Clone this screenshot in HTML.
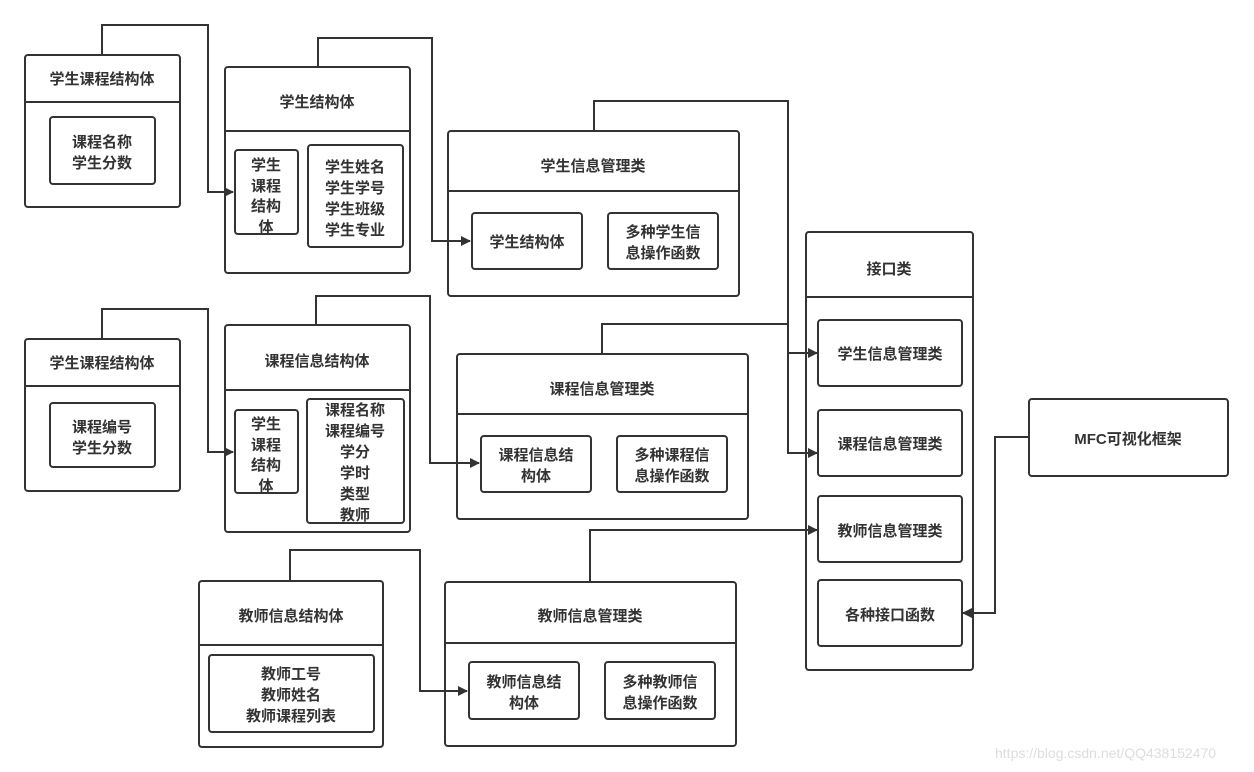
<!DOCTYPE html>
<html><head><meta charset="utf-8"><style>
html,body{margin:0;padding:0;background:#fff;}
svg{display:block;}
text{font-family:"Liberation Sans","Noto Sans CJK SC",sans-serif;font-weight:bold;font-size:15px;fill:#333;text-anchor:middle;}
.b{fill:none;stroke:#333;stroke-width:2;}
.l{fill:none;stroke:#333;stroke-width:2;}
.w{font-family:"Liberation Sans",sans-serif;font-weight:normal;font-size:14px;fill:#ddd;text-anchor:start;}
</style></head><body>
<svg width="1254" height="772" viewBox="0 0 1254 772" xmlns="http://www.w3.org/2000/svg">
<defs><marker id="a" markerWidth="10" markerHeight="10" refX="9" refY="5" orient="auto" markerUnits="userSpaceOnUse"><path d="M0,0 L10,5 L0,10 Z" fill="#333"/></marker></defs>
<!-- connectors -->
<path class="l" d="M102,55 V25 H208 V192 H233" marker-end="url(#a)"/>
<path class="l" d="M318,67 V38 H432 V241 H470" marker-end="url(#a)"/>
<path class="l" d="M594,131 V101 H788 V353 H817" marker-end="url(#a)"/>
<path class="l" d="M602,354 V324 H788"/>
<path class="l" d="M788,353 V453 H817" marker-end="url(#a)"/>
<path class="l" d="M102,339 V309 H208 V452 H233" marker-end="url(#a)"/>
<path class="l" d="M316,325 V296 H430 V463 H479" marker-end="url(#a)"/>
<path class="l" d="M290,581 V550 H420 V691 H467" marker-end="url(#a)"/>
<path class="l" d="M590,583 V530 H817" marker-end="url(#a)"/>
<path class="l" d="M1029,437 H995 V613 H963" marker-end="url(#a)"/>
<!-- A1 -->
<rect class="b" x="25" y="55" width="155" height="152" rx="3"/><line class="b" x1="25" y1="102" x2="180" y2="102"/>
<text x="102" y="84">学生课程结构体</text>
<rect class="b" x="50" y="117" width="105" height="67" rx="3"/>
<text x="102" y="147">课程名称</text><text x="102" y="168">学生分数</text>
<!-- A2 -->
<rect class="b" x="225" y="67" width="185" height="206" rx="3"/><line class="b" x1="225" y1="131" x2="410" y2="131"/>
<text x="317" y="107">学生结构体</text>
<rect class="b" x="235" y="150" width="63" height="84" rx="3"/>
<text x="266" y="170">学生</text><text x="266" y="191">课程</text><text x="266" y="211">结构</text><text x="266" y="232">体</text>
<rect class="b" x="308" y="145" width="95" height="102" rx="3"/>
<text x="355" y="172">学生姓名</text><text x="355" y="193">学生学号</text><text x="355" y="214">学生班级</text><text x="355" y="235">学生专业</text>
<!-- B -->
<rect class="b" x="448" y="131" width="291" height="165" rx="3"/><line class="b" x1="448" y1="191" x2="739" y2="191"/>
<text x="593" y="171">学生信息管理类</text>
<rect class="b" x="472" y="213" width="110" height="56" rx="3"/><text x="527" y="247">学生结构体</text>
<rect class="b" x="608" y="213" width="110" height="56" rx="3"/><text x="663" y="237">多种学生信</text><text x="663" y="258">息操作函数</text>
<!-- C1 -->
<rect class="b" x="25" y="339" width="155" height="152" rx="3"/><line class="b" x1="25" y1="386" x2="180" y2="386"/>
<text x="102" y="368">学生课程结构体</text>
<rect class="b" x="50" y="403" width="105" height="64" rx="3"/>
<text x="102" y="432">课程编号</text><text x="102" y="453">学生分数</text>
<!-- C2 -->
<rect class="b" x="225" y="325" width="185" height="207" rx="3"/><line class="b" x1="225" y1="390" x2="410" y2="390"/>
<text x="317" y="366">课程信息结构体</text>
<rect class="b" x="235" y="410" width="63" height="83" rx="3"/>
<text x="266" y="429">学生</text><text x="266" y="450">课程</text><text x="266" y="470">结构</text><text x="266" y="491">体</text>
<rect class="b" x="307" y="399" width="97" height="124" rx="3"/>
<text x="355" y="415">课程名称</text><text x="355" y="436">课程编号</text><text x="355" y="457">学分</text><text x="355" y="478">学时</text><text x="355" y="499">类型</text><text x="355" y="520">教师</text>
<!-- D -->
<rect class="b" x="457" y="354" width="291" height="165" rx="3"/><line class="b" x1="457" y1="414" x2="748" y2="414"/>
<text x="602" y="394">课程信息管理类</text>
<rect class="b" x="481" y="436" width="110" height="56" rx="3"/><text x="536" y="460">课程信息结</text><text x="536" y="481">构体</text>
<rect class="b" x="617" y="436" width="110" height="56" rx="3"/><text x="672" y="460">多种课程信</text><text x="672" y="481">息操作函数</text>
<!-- E1 -->
<rect class="b" x="199" y="581" width="184" height="166" rx="3"/><line class="b" x1="199" y1="645" x2="383" y2="645"/>
<text x="291" y="621">教师信息结构体</text>
<rect class="b" x="209" y="655" width="165" height="77" rx="3"/>
<text x="291" y="679">教师工号</text><text x="291" y="700">教师姓名</text><text x="291" y="721">教师课程列表</text>
<!-- E2 -->
<rect class="b" x="445" y="582" width="291" height="164" rx="3"/><line class="b" x1="445" y1="643" x2="736" y2="643"/>
<text x="590" y="621">教师信息管理类</text>
<rect class="b" x="469" y="662" width="110" height="57" rx="3"/><text x="524" y="687">教师信息结</text><text x="524" y="708">构体</text>
<rect class="b" x="605" y="662" width="110" height="57" rx="3"/><text x="660" y="687">多种教师信</text><text x="660" y="708">息操作函数</text>
<!-- F -->
<rect class="b" x="806" y="232" width="167" height="438" rx="3"/><line class="b" x1="806" y1="297" x2="973" y2="297"/>
<text x="889" y="274">接口类</text>
<rect class="b" x="818" y="320" width="144" height="66" rx="3"/><text x="890" y="359">学生信息管理类</text>
<rect class="b" x="818" y="410" width="144" height="66" rx="3"/><text x="890" y="449">课程信息管理类</text>
<rect class="b" x="818" y="496" width="144" height="66" rx="3"/><text x="890" y="536">教师信息管理类</text>
<rect class="b" x="818" y="580" width="144" height="66" rx="3"/><text x="890" y="620">各种接口函数</text>
<!-- MFC -->
<rect class="b" x="1029" y="399" width="199" height="77" rx="3"/><text x="1128" y="444">MFC可视化框架</text>
<text class="w" x="995" y="758">https://blog.csdn.net/QQ438152470</text>
</svg>
</body></html>
